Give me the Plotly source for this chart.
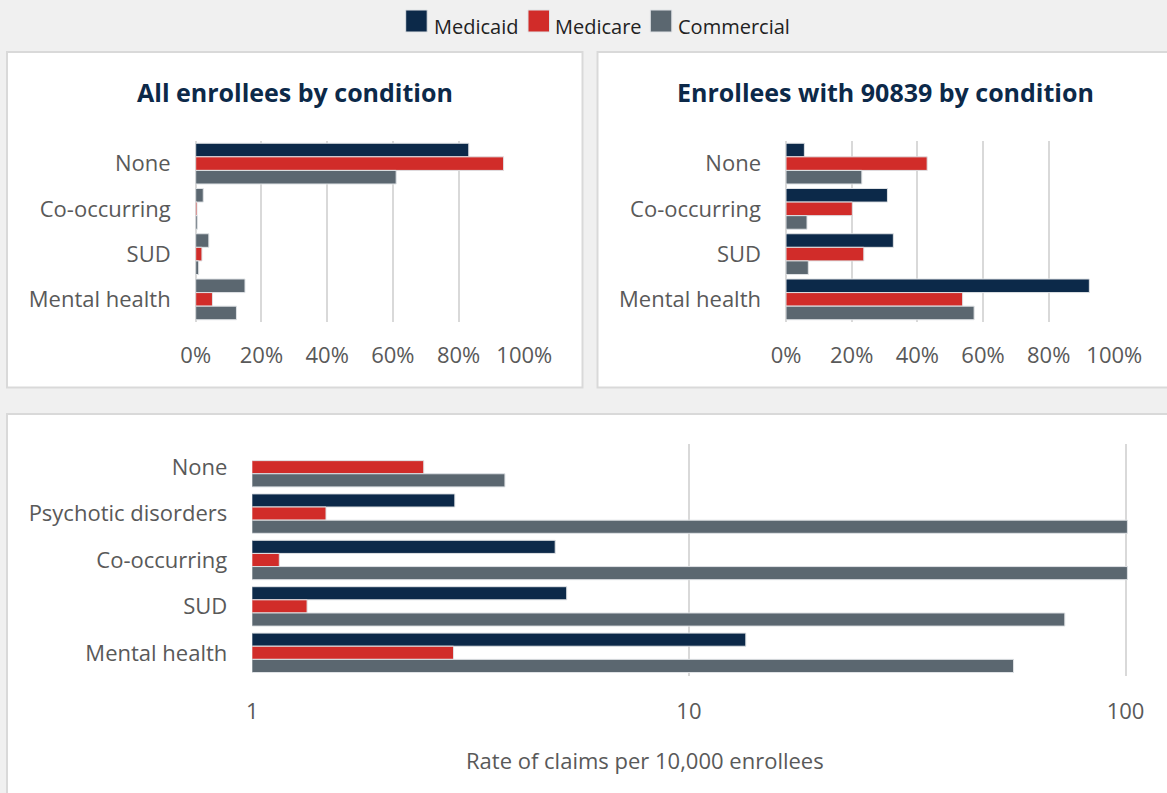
import plotly.graph_objects as go

# ---- data ----
series = ["Medicaid", "Medicare", "Commercial"]
colors = {"Medicaid": "#0c2949", "Medicare": "#d12c29", "Commercial": "#5b6770"}

conditions = ["None", "Co-occurring", "SUD", "Mental health"]

# Share of all enrollees by condition (%)
all_medicaid = [83.1, 2.3, 4.0, 15.0]
all_medicare = [93.7, 0.4, 1.9, 5.1]
all_commercial = [61.0, 0.5, 0.9, 12.4]

# Share of enrollees with a 90839 claim by condition (%)
w90839_medicaid = [5.6, 30.9, 32.7, 92.4]
w90839_medicare = [43.0, 20.2, 23.7, 53.8]
w90839_commercial = [23.1, 6.4, 6.8, 57.3]

rate_conditions = ["None", "Psychotic disorders", "Co-occurring", "SUD", "Mental health"]

# Rate of 90839 claims per 10,000 enrollees
rate_medicaid = [None, 2.91, 4.94, 5.25, 13.5]
rate_medicare = [2.47, 1.475, 1.153, 1.335, 2.89]
rate_commercial = [3.79, 101, 101, 72.6, 55.4]

pct_ticks = [0, 20, 40, 60, 80, 100]
pct_labels = [f"{v}%" for v in pct_ticks]
rate_ticks = [1, 10, 100]
rate_labels = [str(v) for v in rate_ticks]

# ---- page geometry (pixels) ----
W, H = 1167, 793


def px(x):
    return x / W


def py(y):
    return 1 - y / H


FONT = "Open Sans"
TICK_COLOR = "#595959"
GRID = "#d9d9d9"
TITLE_COLOR = "#0c2949"

fig = go.Figure()


def add_group(xs, ys_by_series, xa, ya, width, color_override=None):
    offsets = [-1.5 * width, -0.5 * width, 0.5 * width]
    for name, off in zip(series, offsets):
        col = colors[name]
        if color_override and name in color_override:
            col = color_override[name]
        fig.add_trace(go.Bar(
            y=xs, x=ys_by_series[name], name=name, orientation="h",
            xaxis=xa, yaxis=ya, width=width, offset=off,
            marker=dict(color=col, line=dict(color="#dfe2e5", width=1)),
            showlegend=False, cliponaxis=False,
        ))


# top-left panel: Medicaid bars below "None" share the commercial tone
medicaid_tl_colors = [colors["Medicaid"]] + [colors["Commercial"]] * (len(conditions) - 1)
add_group(conditions,
          {"Medicaid": all_medicaid, "Medicare": all_medicare, "Commercial": all_commercial},
          "x", "y", 0.3, color_override={"Medicaid": medicaid_tl_colors})
add_group(conditions,
          {"Medicaid": w90839_medicaid, "Medicare": w90839_medicare, "Commercial": w90839_commercial},
          "x2", "y2", 0.3)
add_group(rate_conditions,
          {"Medicaid": rate_medicaid, "Medicare": rate_medicare, "Commercial": rate_commercial},
          "x3", "y3", 0.283)

tick_font = dict(family=FONT, size=22, color=TICK_COLOR)

pct_axis = dict(range=[0, 100], tickvals=pct_ticks, ticktext=pct_labels,
                showgrid=True, gridcolor=GRID, gridwidth=2,
                zeroline=True, zerolinecolor=GRID, zerolinewidth=2,
                showline=False, tickfont=tick_font, ticks="", ticklabelstandoff=18,
                automargin=False, fixedrange=True)
cat_axis = dict(autorange="reversed", showgrid=False, zeroline=False, showline=False,
                tickfont=tick_font, ticks="", ticklabelstandoff=24,
                automargin=False, fixedrange=True)

fig.update_layout(
    template="none",
    width=W, height=H, autosize=False,
    margin=dict(l=0, r=0, t=0, b=0, pad=0),
    paper_bgcolor="#f0f0f0", plot_bgcolor="rgba(0,0,0,0)",
    barmode="overlay", showlegend=False,
    font=dict(family=FONT),
    xaxis=dict(domain=[px(195.7), px(524.3)], anchor="y", **pct_axis),
    yaxis=dict(domain=[py(322), py(141)], anchor="x", **cat_axis),
    xaxis2=dict(domain=[px(786), px(1114.3)], anchor="y2", **pct_axis),
    yaxis2=dict(domain=[py(322), py(141)], anchor="x2", **cat_axis),
    xaxis3=dict(domain=[px(252.3), px(1129.9)], anchor="y3", type="log",
                range=[0, 2.01], tickvals=rate_ticks, ticktext=rate_labels,
                showgrid=True, gridcolor=GRID, gridwidth=2, zeroline=False, showline=False,
                tickfont=tick_font, ticks="", ticklabelstandoff=20,
                automargin=False, fixedrange=True),
    yaxis3=dict(domain=[py(676), py(444)], anchor="x3", **cat_axis),
)

# white panels behind each chart
panels = [(7, 52, 582.5, 387.5), (597.5, 52, 1180, 387.5), (7, 414, 1180, 800)]
for x0, y0, x1, y1 in panels:
    fig.add_shape(type="rect", xref="paper", yref="paper",
                  x0=px(x0), x1=px(x1), y0=py(y1), y1=py(y0),
                  fillcolor="white", line=dict(color="#d9d9d9", width=2), layer="below")

# panel titles
title_font = dict(family=FONT, size=25, color=TITLE_COLOR, weight="bold")
fig.add_annotation(text="All enrollees by condition", xref="paper", yref="paper",
                   x=px(295), y=py(92), xanchor="center", yanchor="middle",
                   showarrow=False, font=title_font)
fig.add_annotation(text="Enrollees with 90839 by condition", xref="paper", yref="paper",
                   x=px(885), y=py(92), xanchor="center", yanchor="middle",
                   showarrow=False, font=title_font)

# axis title for the rate chart
fig.add_annotation(text="Rate of claims per 10,000 enrollees", xref="paper", yref="paper",
                   x=px(644.5), y=py(760), xanchor="center", yanchor="middle",
                   showarrow=False, font=dict(family=FONT, size=22, color=TICK_COLOR))

# legend: swatch + label for each series
legend_items = [("Medicaid", 405.7, 431.7), ("Medicare", 528, 553.3), ("Commercial", 650.3, 676)]
for name, sx, tx in legend_items:
    fig.add_shape(type="rect", xref="paper", yref="paper",
                  x0=px(sx), x1=px(sx + 21.5), y0=py(32), y1=py(10),
                  fillcolor=colors[name], line=dict(color="#dfe2e5", width=1))
    fig.add_annotation(text=name, xref="paper", yref="paper",
                       x=px(tx), y=py(27), xanchor="left", yanchor="middle",
                       showarrow=False, font=dict(family=FONT, size=20, color="#222222"))

fig.write_html("out.html")
